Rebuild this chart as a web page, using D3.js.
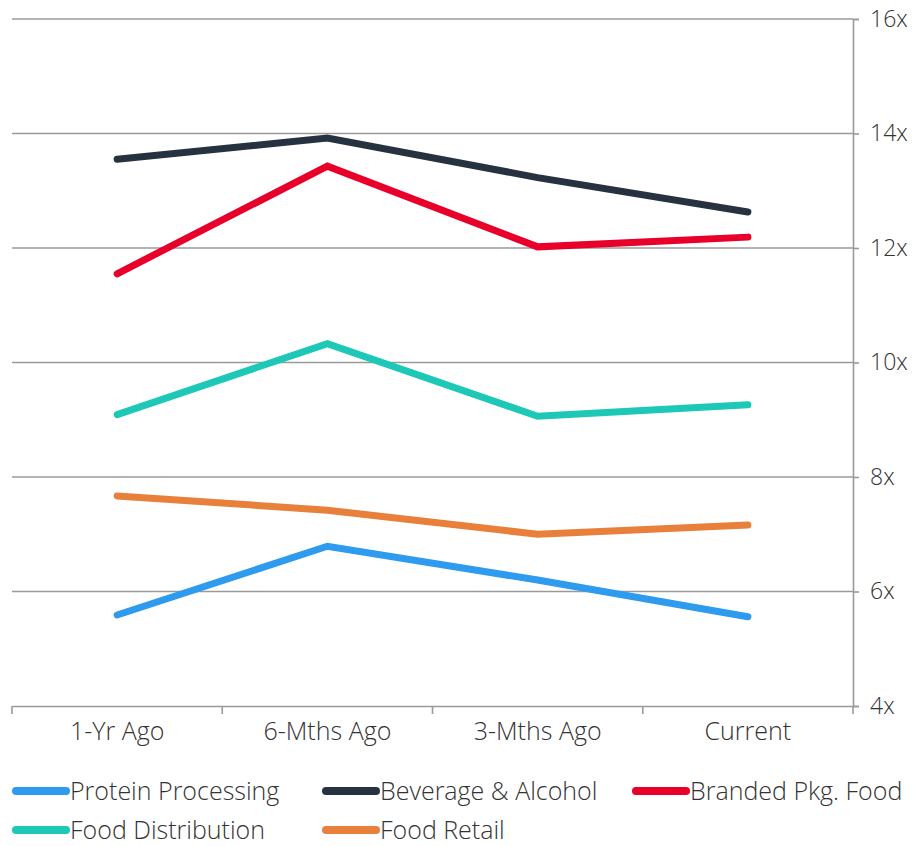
<!DOCTYPE html>
<html>
<head>
<meta charset="utf-8">
<script src="https://cdn.jsdelivr.net/npm/d3@7"></script>
<style>
  html, body { margin: 0; padding: 0; background: #ffffff; }
  svg { display: block; }
  text { font-family: "Open Sans", Lato, sans-serif; font-weight: 300; fill: #333333; }
</style>
</head>
<body>
<svg id="chart" width="915" height="846"></svg>
<script>
// Periods on the x axis
const periods = ["1-Yr Ago", "6-Mths Ago", "3-Mths Ago", "Current"];

// EV/EBITDA multiples by sub-sector
const proteinProcessing = [5.59, 6.79, 6.2, 5.56];
const beverageAlcohol   = [13.55, 13.92, 13.23, 12.63];
const brandedPkgFood    = [11.55, 13.43, 12.02, 12.19];
const foodDistribution  = [9.09, 10.33, 9.06, 9.26];
const foodRetail        = [7.67, 7.42, 7.0, 7.16];

const seriesNames  = ["Protein Processing", "Beverage & Alcohol", "Branded Pkg. Food", "Food Distribution", "Food Retail"];
const seriesColors = ["#2e9bef", "#26323f", "#e8002b", "#1ec8b7", "#e8803c"];
const seriesValues = [proteinProcessing, beverageAlcohol, brandedPkgFood, foodDistribution, foodRetail];

// Y axis ticks
const yTicks = [4, 6, 8, 10, 12, 14, 16];

const svg = d3.select("#chart");
const plotLeft = 12, plotRight = 853, plotTop = 19, plotBottom = 706;

const x = d3.scaleBand().domain(periods).range([plotLeft, plotRight]).paddingInner(0).paddingOuter(0);
const y = d3.scaleLinear().domain([4, 16]).range([plotBottom, plotTop]);

// Horizontal gridlines
svg.append("g")
  .selectAll("line")
  .data(yTicks.filter(t => t > 4))
  .join("line")
  .attr("x1", plotLeft).attr("x2", plotRight)
  .attr("y1", d => y(d)).attr("y2", d => y(d))
  .attr("stroke", "#9a9a9a").attr("stroke-width", 1.6);

// Right value axis
const yAxis = d3.axisRight(y).tickValues(yTicks).tickSize(6).tickPadding(11).tickFormat(d => d + "x");
const gy = svg.append("g").attr("transform", `translate(${plotRight},0)`).call(yAxis);
gy.select(".domain").attr("stroke", "#9a9a9a").attr("stroke-width", 1.6);
gy.selectAll(".tick line").attr("stroke", "#9a9a9a").attr("stroke-width", 1.6);
gy.selectAll(".tick text").attr("font-size", 23).attr("fill", "#333").attr("font-family", null);

// Bottom category axis
const xAxis = d3.axisBottom(x).tickSize(0).tickPadding(16);
const gx = svg.append("g").attr("transform", `translate(0,${plotBottom})`).call(xAxis);
gx.select(".domain").attr("stroke", "#9a9a9a").attr("stroke-width", 1.6);
gx.selectAll(".tick text").attr("font-size", 25).attr("fill", "#333").attr("font-family", null);

// Band boundary tick marks
const edges = periods.map(p => x(p)).concat([plotRight]);
gx.append("g").selectAll("line").data(edges).join("line")
  .attr("x1", d => d).attr("x2", d => d)
  .attr("y1", 0).attr("y2", 8)
  .attr("stroke", "#9a9a9a").attr("stroke-width", 1.6);

// Series lines
const line = d3.line()
  .x((d, i) => x(periods[i]) + x.bandwidth() / 2)
  .y(d => y(d));

svg.append("g")
  .selectAll("path")
  .data(seriesValues)
  .join("path")
  .attr("d", d => line(d))
  .attr("fill", "none")
  .attr("stroke", (d, i) => seriesColors[i])
  .attr("stroke-width", 7)
  .attr("stroke-linecap", "round")
  .attr("stroke-linejoin", "miter");

// Legend
const legendPos = [[12, 791], [322, 791], [632, 791], [12, 830], [322, 830]];
const lg = svg.append("g").selectAll("g").data(seriesNames).join("g")
  .attr("transform", (d, i) => `translate(${legendPos[i][0]},${legendPos[i][1]})`);
lg.append("line")
  .attr("x1", 4).attr("x2", 54).attr("y1", 0).attr("y2", 0)
  .attr("stroke", (d, i) => seriesColors[i])
  .attr("stroke-width", 8).attr("stroke-linecap", "round");
lg.append("text")
  .attr("x", 58).attr("y", 0).attr("dy", "0.35em")
  .attr("font-size", 25)
  .text(d => d);
</script>
</body>
</html>
